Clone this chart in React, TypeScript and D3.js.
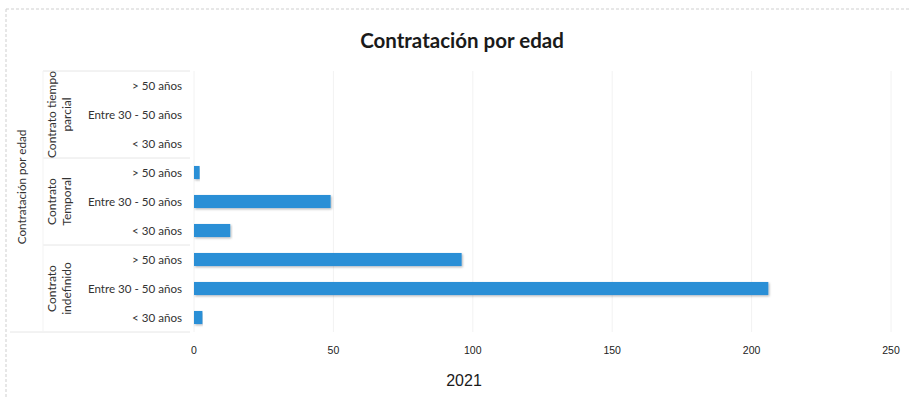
import React from "react";
import * as d3 from "d3";

const groups = ["Contrato tiempo parcial", "Contrato Temporal", "Contrato indefinido"];
const groupLines = [["Contrato tiempo", "parcial"], ["Contrato", "Temporal"], ["Contrato", "indefinido"]];
const ages = ["> 50 años", "Entre 30 - 50 años", "< 30 años"];
const parcialValues = [0, 0, 0];
const temporalValues = [2, 49, 13];
const indefinidoValues = [96, 206, 3];
const xTicks = [0, 50, 100, 150, 200, 250];
const seriesName = "2021";
const chartTitle = "Contratación por edad";
const axisTitle = "Contratación por edad";

const W = 910;
const H = 398;

export default function App() {
  const values = [parcialValues, temporalValues, indefinidoValues];
  const rows = groups.flatMap((g, gi) =>
    ages.map((a, ai) => ({ key: `${gi}-${ai}`, group: g, gi, age: a, value: values[gi][ai] }))
  );
  const x = d3.scaleLinear().domain([0, 250]).range([194, 891]);
  const y = d3
    .scaleBand<string>()
    .domain(rows.map((r) => r.key))
    .range([71, 332])
    .paddingInner(0.55)
    .paddingOuter(0.275);
  const step = y.step();
  const top = 71;
  const bottom = 332;
  const groupBounds = groups.map((_, gi) => {
    const y0 = (y(`${gi}-0`) as number) - (step - y.bandwidth()) / 2;
    return { y0, y1: y0 + step * 3 };
  });
  const labelFont = "Lato, 'Open Sans', sans-serif";
  const numFont = "'Liberation Sans', Arial, sans-serif";

  return (
    <svg
      width={W}
      height={H}
      style={{ position: "absolute", left: 0, top: 0, background: "#fff" }}
    >
      <defs>
        <filter id="sh" x="-5%" y="-30%" width="110%" height="170%">
          <feDropShadow dx="1" dy="1.2" stdDeviation="0.8" floodColor="#000" floodOpacity="0.3" />
        </filter>
      </defs>
      {/* outer border */}
      <line x1={6} x2={W} y1={9} y2={9} stroke="#cfcfcf" strokeDasharray="3,2" />
      <line x1={6} x2={6} y1={9} y2={H} stroke="#cfcfcf" strokeDasharray="3,2" />

      <text
        x={462}
        y={48}
        textAnchor="middle"
        fontFamily={labelFont}
        fontWeight={700}
        fontSize={20.5}
        fill="#1a1a1a"
      >
        {chartTitle}
      </text>

      {/* gridlines */}
      {xTicks.map((t) => (
        <line key={t} x1={x(t)} x2={x(t)} y1={top} y2={bottom} stroke="#f2f2f2" strokeWidth={1} />
      ))}

      {/* category axis separators */}
      <line x1={43} x2={190} y1={top} y2={top} stroke="#e6e6e6" />
      {groupBounds.slice(1).map((b, i) => (
        <line key={i} x1={43} x2={190} y1={b.y0} y2={b.y0} stroke="#e6e6e6" />
      ))}
      <line x1={10} x2={190} y1={bottom} y2={bottom} stroke="#e6e6e6" />
      <line x1={43} x2={43} y1={top} y2={bottom} stroke="#f3f3f3" />

      {/* bars */}
      {rows.map((r) =>
        r.value > 0 ? (
          <rect
            key={r.key}
            x={x(0)}
            y={y(r.key)}
            width={x(r.value) - x(0)}
            height={y.bandwidth()}
            fill="#2a8fd6"
            filter="url(#sh)"
          />
        ) : null
      )}

      {/* category labels */}
      {rows.map((r) => (
        <text
          key={"l" + r.key}
          x={182}
          y={(y(r.key) as number) + y.bandwidth() / 2}
          dy="0.35em"
          textAnchor="end"
          fontFamily={labelFont}
          fontSize={11.6}
          fill="#333"
        >
          {r.age}
        </text>
      ))}

      {/* group labels */}
      {groupLines.map((lines, gi) => {
        const cy = (groupBounds[gi].y0 + groupBounds[gi].y1) / 2;
        return (
          <text
            key={"g" + gi}
            transform={`translate(58,${cy}) rotate(-90)`}
            textAnchor="middle"
            fontFamily={labelFont}
            fontSize={12}
            fill="#333"
          >
            <tspan x={0} dy="-0.15em">{lines[0]}</tspan>
            <tspan x={0} dy="1.2em">{lines[1]}</tspan>
          </text>
        );
      })}

      {/* axis title */}
      <text
        transform={`translate(26,187) rotate(-90)`}
        textAnchor="middle"
        fontFamily={labelFont}
        fontSize={11.7}
        fill="#333"
      >
        {axisTitle}
      </text>

      {/* x tick labels */}
      {xTicks.map((t) => (
        <text
          key={"t" + t}
          x={x(t)}
          y={354}
          textAnchor="middle"
          fontFamily={numFont}
          fontSize={10.5}
          fill="#222"
        >
          {t}
        </text>
      ))}

      <text x={464} y={386} textAnchor="middle" fontFamily={numFont} fontSize={16} fill="#1a1a1a">
        {seriesName}
      </text>
    </svg>
  );
}
